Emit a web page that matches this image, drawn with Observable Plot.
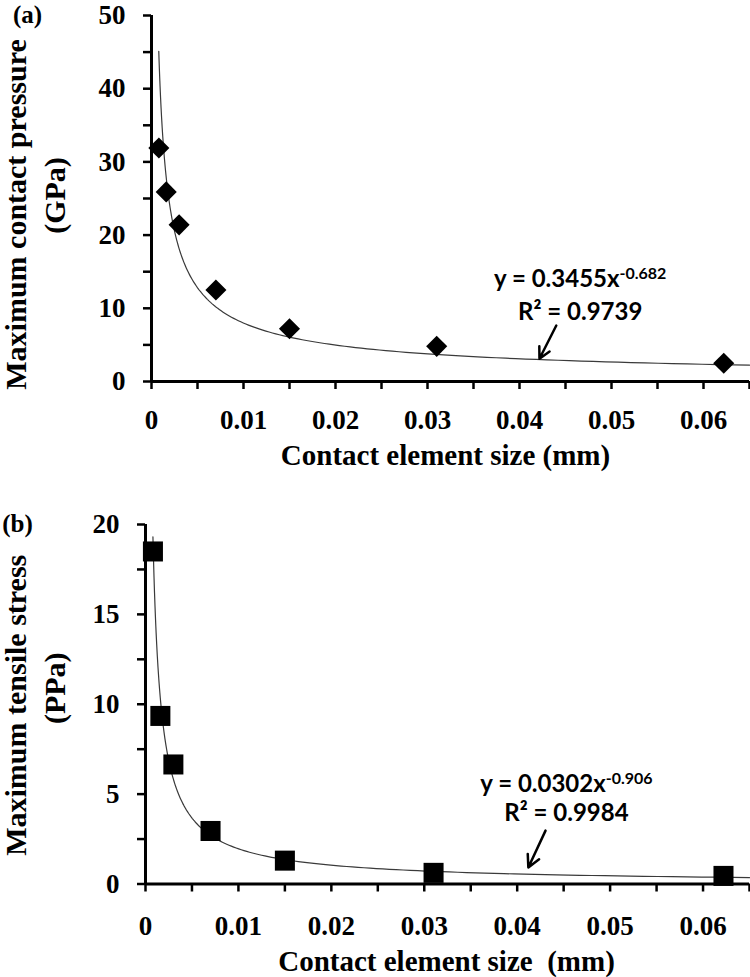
<!DOCTYPE html>
<html><head><meta charset="utf-8">
<script src="https://cdn.jsdelivr.net/npm/d3@7"></script>
<script src="https://cdn.jsdelivr.net/npm/@observablehq/plot@0.6"></script>
<style>body{margin:0;background:#fff} svg{display:block;background:#fff}</style>
</head><body><div id="chart" style="width:750px;height:977px"></div>
<script>
// ---- data ----
const elementSize = [0.0008, 0.0016, 0.003, 0.007, 0.015, 0.031, 0.0622];
const maxPressure = [31.9, 25.9, 21.4, 12.5, 7.2, 4.8, 2.5];      // GPa, panel (a)
const maxTensile  = [18.5, 9.35, 6.65, 2.95, 1.3, 0.62, 0.45];    // PPa, panel (b)

const xTicks = [0, 0.005, 0.01, 0.015, 0.02, 0.025, 0.03, 0.035, 0.04, 0.045, 0.05, 0.055, 0.06, 0.065];
const xTickLabels = ["0", "0.01", "0.02", "0.03", "0.04", "0.05", "0.06"];
const yTicksA = [0, 5, 10, 15, 20, 25, 30, 35, 40, 45, 50];
const yTickLabelsA = [0, 10, 20, 30, 40, 50];
const yTicksB = [0, 2.5, 5, 7.5, 10, 12.5, 15, 17.5, 20];
const yTickLabelsB = [0, 5, 10, 15, 20];

// power-law trend lines printed on the chart: y = coef * x^exp
const fitA = {coef: 0.3455, exp: -0.682, coefText: "0.3455", expText: "-0.682", r2: "0.9739", from: 0.00079};
const fitB = {coef: 0.0302, exp: -0.906, coefText: "0.0302", expText: "-0.906", r2: "0.9984", from: 0.0008};

const serif = "'Liberation Serif', 'Times New Roman', serif";
const sans = "Lato, 'Open Sans', sans-serif";

const xFmt = d => { const l = xTickLabels.find(s => Math.abs(+s - d) < 1e-9); return l === undefined ? "" : l; };
const yFmt = labels => d => labels.includes(d) ? String(d) : "";

function trend(fit) {
  const n = 160, x1 = 0.065;
  return d3.range(n + 1).map(i => {
    const x = fit.from * Math.pow(x1 / fit.from, i / n);
    return {x, y: fit.coef * Math.pow(x, fit.exp)};
  });
}

function panel(o) {
  const pts = elementSize.map((x, i) => ({x, y: o.values[i]}));
  const lbl = {fontWeight: "bold", fontFamily: serif, fill: "#000", textAnchor: "middle", lineAnchor: "middle"};
  const svg = Plot.plot({
    width: 750, height: o.height,
    marginLeft: o.marginLeft, marginRight: 1, marginTop: o.marginTop, marginBottom: o.marginBottom,
    x: {domain: [0, 0.065]},
    y: {domain: o.yDomain},
    style: {fontFamily: serif, color: "#000", background: "#fff", overflow: "visible"},
    marks: [
      Plot.axisY({ticks: o.yTicks, tickFormat: yFmt(o.yLabels), tickSize: 8, tickPadding: 18, strokeWidth: 2.5,
                  fontSize: 27, fontWeight: "bold", fontFamily: serif, label: null}),
      Plot.axisX({ticks: xTicks, tickFormat: xFmt, tickSize: 8, tickPadding: o.xPad, strokeWidth: 2.5,
                  fontSize: 27, fontWeight: "bold", fontFamily: serif, label: null}),
      Plot.ruleY([0], {strokeWidth: 3}),
      Plot.ruleX([0], {strokeWidth: 3}),
      Plot.line(trend(o.fit), {x: "x", y: "y", stroke: "#3a3a3a", strokeWidth: 1.2}),
      Plot.dot(pts, {x: "x", y: "y", symbol: o.symbol, r: o.r, fill: "#000", stroke: "none"}),
      Plot.text([`y = ${o.fit.coefText}x^${o.fit.expText}`], {x: o.eq.x, y: o.eq.y1, fontFamily: sans, fontWeight: "bold", fontSize: 24, fill: "#000"}),
      Plot.text([`R² = ${o.fit.r2}`], {x: o.eq.x, y: o.eq.y2, fontFamily: sans, fontWeight: "bold", fontSize: 24, fill: "#000"}),
      Plot.arrow([o.arrow], {x1: "x1", y1: "y1", x2: "x2", y2: "y2", strokeWidth: 2.5, headLength: 16, headAngle: 55, stroke: "#000"}),
      Plot.text([o.xTitle], {...lbl, frameAnchor: "bottom", dx: o.xTitleDx, dy: o.xTitleDy, fontSize: 29}),
      Plot.text([o.yTitle], {...lbl, frameAnchor: "left", rotate: -90, dx: o.yTitle1.dx, dy: o.yTitle1.dy, fontSize: 30}),
      Plot.text([o.yUnit], {...lbl, frameAnchor: "left", rotate: -90, dx: o.yTitle2.dx, dy: o.yTitle2.dy, fontSize: 30}),
      Plot.text([o.tag], {...lbl, frameAnchor: "top-left", dx: o.tagPos.dx, dy: o.tagPos.dy, fontSize: 25})
    ]
  });
  // superscript exponent in the equation
  d3.select(svg).selectAll("text").filter(function() { return this.textContent.startsWith("y = "); })
    .each(function() {
      const [base, sup] = this.textContent.split("^");
      const t = d3.select(this);
      t.text(null);
      t.append("tspan").text(base);
      t.append("tspan").attr("dy", "-0.5em").attr("font-size", 16).text(sup);
    });
  return svg;
}

const root = document.getElementById("chart");
root.appendChild(panel({
  height: 475, marginLeft: 151, marginTop: 15, marginBottom: 94,
  values: maxPressure, yDomain: [0, 50], yTicks: yTicksA, yLabels: yTickLabelsA,
  symbol: "diamond2", r: 9.5, fit: fitA, xPad: 20,
  eq: {x: 0.0466, y1: 13.9, y2: 9.45},
  arrow: {x1: 0.0440, y1: 7.65, x2: 0.04217, y2: 3.1},
  xTitle: "Contact element size (mm)", xTitleDx: -5, xTitleDy: 74,
  yTitle: "Maximum contact pressure", yUnit: "(GPa)",
  yTitle1: {dx: -135, dy: 16}, yTitle2: {dx: -96, dy: -3},
  tag: "(a)", tagPos: {dx: -124, dy: -1}
}));
root.appendChild(panel({
  height: 502, marginLeft: 145, marginTop: 49, marginBottom: 93.5,
  values: maxTensile, yDomain: [0, 20], yTicks: yTicksB, yLabels: yTickLabelsB,
  symbol: "square", r: 11.3, fit: fitB, xPad: 24,
  eq: {x: 0.0453, y1: 5.57, y2: 3.91},
  arrow: {x1: 0.04305, y1: 2.97, x2: 0.0412, y2: 0.92},
  xTitle: "Contact element size \u00a0(mm)", xTitleDx: -1, xTitleDy: 78,
  yTitle: "Maximum tensile stress", yUnit: "(PPa)",
  yTitle1: {dx: -129, dy: 1}, yTitle2: {dx: -90, dy: -16},
  tag: "(b)", tagPos: {dx: -128, dy: -1}
}));
</script></body></html>
